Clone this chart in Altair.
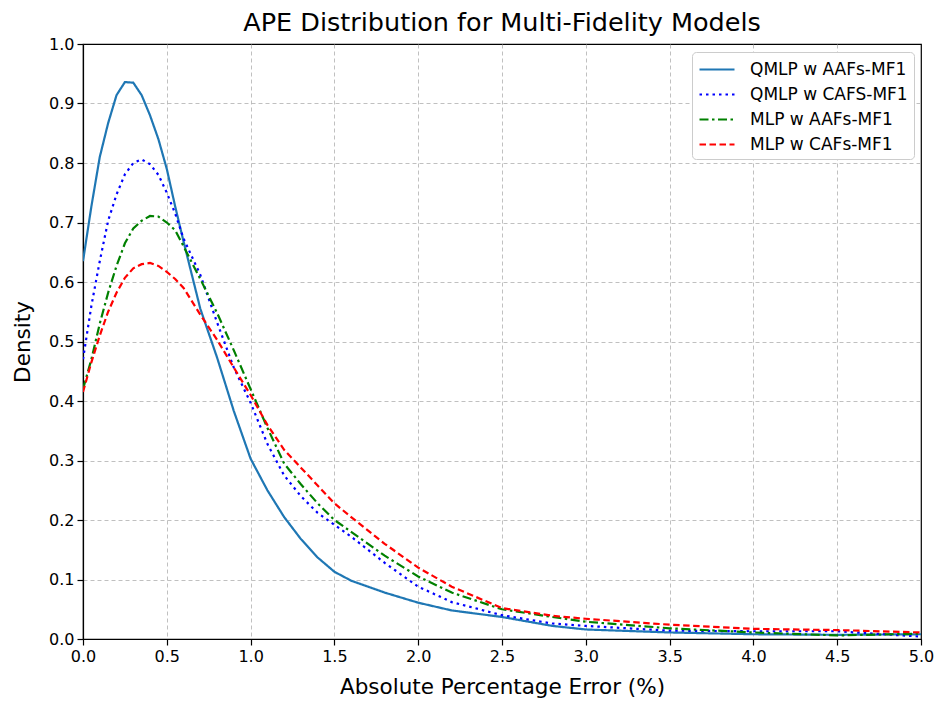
import altair as alt
import pandas as pd

x_vals = [0, 0.05, 0.1, 0.15, 0.2, 0.25, 0.3, 0.35, 0.4, 0.45, 0.5, 0.55, 0.6, 0.7, 0.8, 0.9,
          1.0, 1.1, 1.2, 1.3, 1.4, 1.5, 1.6, 1.8, 2.0, 2.2, 2.5, 2.8, 3.0, 3.5, 4.0, 4.5, 5.0]

qmlp_aafs = [0.635, 0.727, 0.81, 0.867, 0.914, 0.936, 0.935, 0.914, 0.88, 0.84, 0.79, 0.727, 0.668,
             0.555, 0.473, 0.383, 0.303, 0.25, 0.205, 0.168, 0.137, 0.113, 0.098, 0.078, 0.061,
             0.048, 0.037, 0.022, 0.016, 0.011, 0.008, 0.007, 0.008]
qmlp_cafs = [0.47, 0.56, 0.635, 0.703, 0.747, 0.781, 0.80, 0.806, 0.798, 0.78, 0.75, 0.715, 0.673,
             0.612, 0.532, 0.456, 0.397, 0.328, 0.275, 0.24, 0.212, 0.192, 0.172, 0.128, 0.088,
             0.062, 0.04, 0.026, 0.022, 0.014, 0.013, 0.013, 0.004]
mlp_aafs = [0.42, 0.47, 0.53, 0.582, 0.627, 0.665, 0.69, 0.703, 0.711, 0.71, 0.70, 0.687, 0.66,
            0.605, 0.548, 0.485, 0.42, 0.355, 0.295, 0.26, 0.228, 0.2, 0.18, 0.14, 0.105,
            0.078, 0.05, 0.037, 0.029, 0.018, 0.011, 0.006, 0.009]
mlp_cafs = [0.415, 0.465, 0.51, 0.55, 0.582, 0.607, 0.623, 0.63, 0.632, 0.627, 0.617, 0.605, 0.59,
            0.545, 0.503, 0.456, 0.41, 0.36, 0.318, 0.288, 0.258, 0.228, 0.205, 0.16, 0.12,
            0.088, 0.052, 0.039, 0.034, 0.024, 0.017, 0.015, 0.011]

names = ["QMLP w AAFs-MF1", "QMLP w CAFS-MF1", "MLP w AAFs-MF1", "MLP w CAFs-MF1"]
colors = ["#1f77b4", "#0000ff", "#008000", "#ff0000"]
dashes = [[1, 0], [2.5, 4], [9, 3.5, 2.5, 3.5], [6.5, 3.5]]

x_ticks = [0, 0.5, 1, 1.5, 2, 2.5, 3, 3.5, 4, 4.5, 5]
y_ticks = [i / 10 for i in range(11)]

rows = []
for name, series in zip(names, [qmlp_aafs, qmlp_cafs, mlp_aafs, mlp_cafs]):
    for xv, yv in zip(x_vals, series):
        rows.append({"x": xv, "density": yv, "model": name})
df = pd.DataFrame(rows)

font = "DejaVu Sans"

chart = alt.Chart(df).mark_line(strokeWidth=2.2, strokeCap="butt", clip=True).encode(
    x=alt.X("x:Q", scale=alt.Scale(domain=[0, 5], nice=False),
            axis=alt.Axis(title="Absolute Percentage Error (%)", values=x_ticks, format=".1f",
                          gridOpacity={"condition": {"test": "datum.value >= 5", "value": 0},
                                       "value": 1})),
    y=alt.Y("density:Q", scale=alt.Scale(domain=[0, 1], nice=False),
            axis=alt.Axis(title="Density", values=y_ticks, format=".1f",
                          gridOpacity={"condition": {"test": "datum.value >= 1", "value": 0},
                                       "value": 1})),
    color=alt.Color("model:N", scale=alt.Scale(domain=names, range=colors),
                    sort=names,
                    legend=alt.Legend(title=None, orient="none", legendX=609, legendY=8,
                                      symbolType="M-1,0H2.5", symbolSize=400, symbolStrokeWidth=2.2,
                                      labelFontSize=17, labelFont=font, labelColor="black",
                                      padding=6, rowPadding=5, labelOffset=29, labelLimit=300,
                                      strokeColor="#cccccc", fillColor="white", cornerRadius=4)),
    strokeDash=alt.StrokeDash("model:N", scale=alt.Scale(domain=names, range=dashes), sort=names,
                              legend=None),
    order=alt.Order("x:Q"),
).properties(
    width=838, height=595,
    title=alt.TitleParams("APE Distribution for Multi-Fidelity Models", fontSize=25.5,
                          font=font, fontWeight="normal", color="black", offset=0),
    autosize=alt.AutoSizeParams(type="none"),
    padding={"left": 83, "top": 44, "right": 15, "bottom": 63},
).configure_view(
    stroke="black", strokeWidth=1.2
).configure_axis(
    labelFont=font, titleFont=font, labelFontSize=16, titleFontSize=21.5,
    titleFontWeight="normal", labelColor="black", titleColor="black",
    domainColor="black", domainWidth=1.2, tickColor="black", tickSize=6, tickWidth=1.2,
    labelPadding=3, gridColor="#b0b0b0", gridDash=[4, 3], gridWidth=0.8, labelFlush=False
).configure_axisX(titlePadding=12).configure_axisY(titlePadding=14)

chart.save("out.html", embed_options={"renderer": "svg", "actions": False})
